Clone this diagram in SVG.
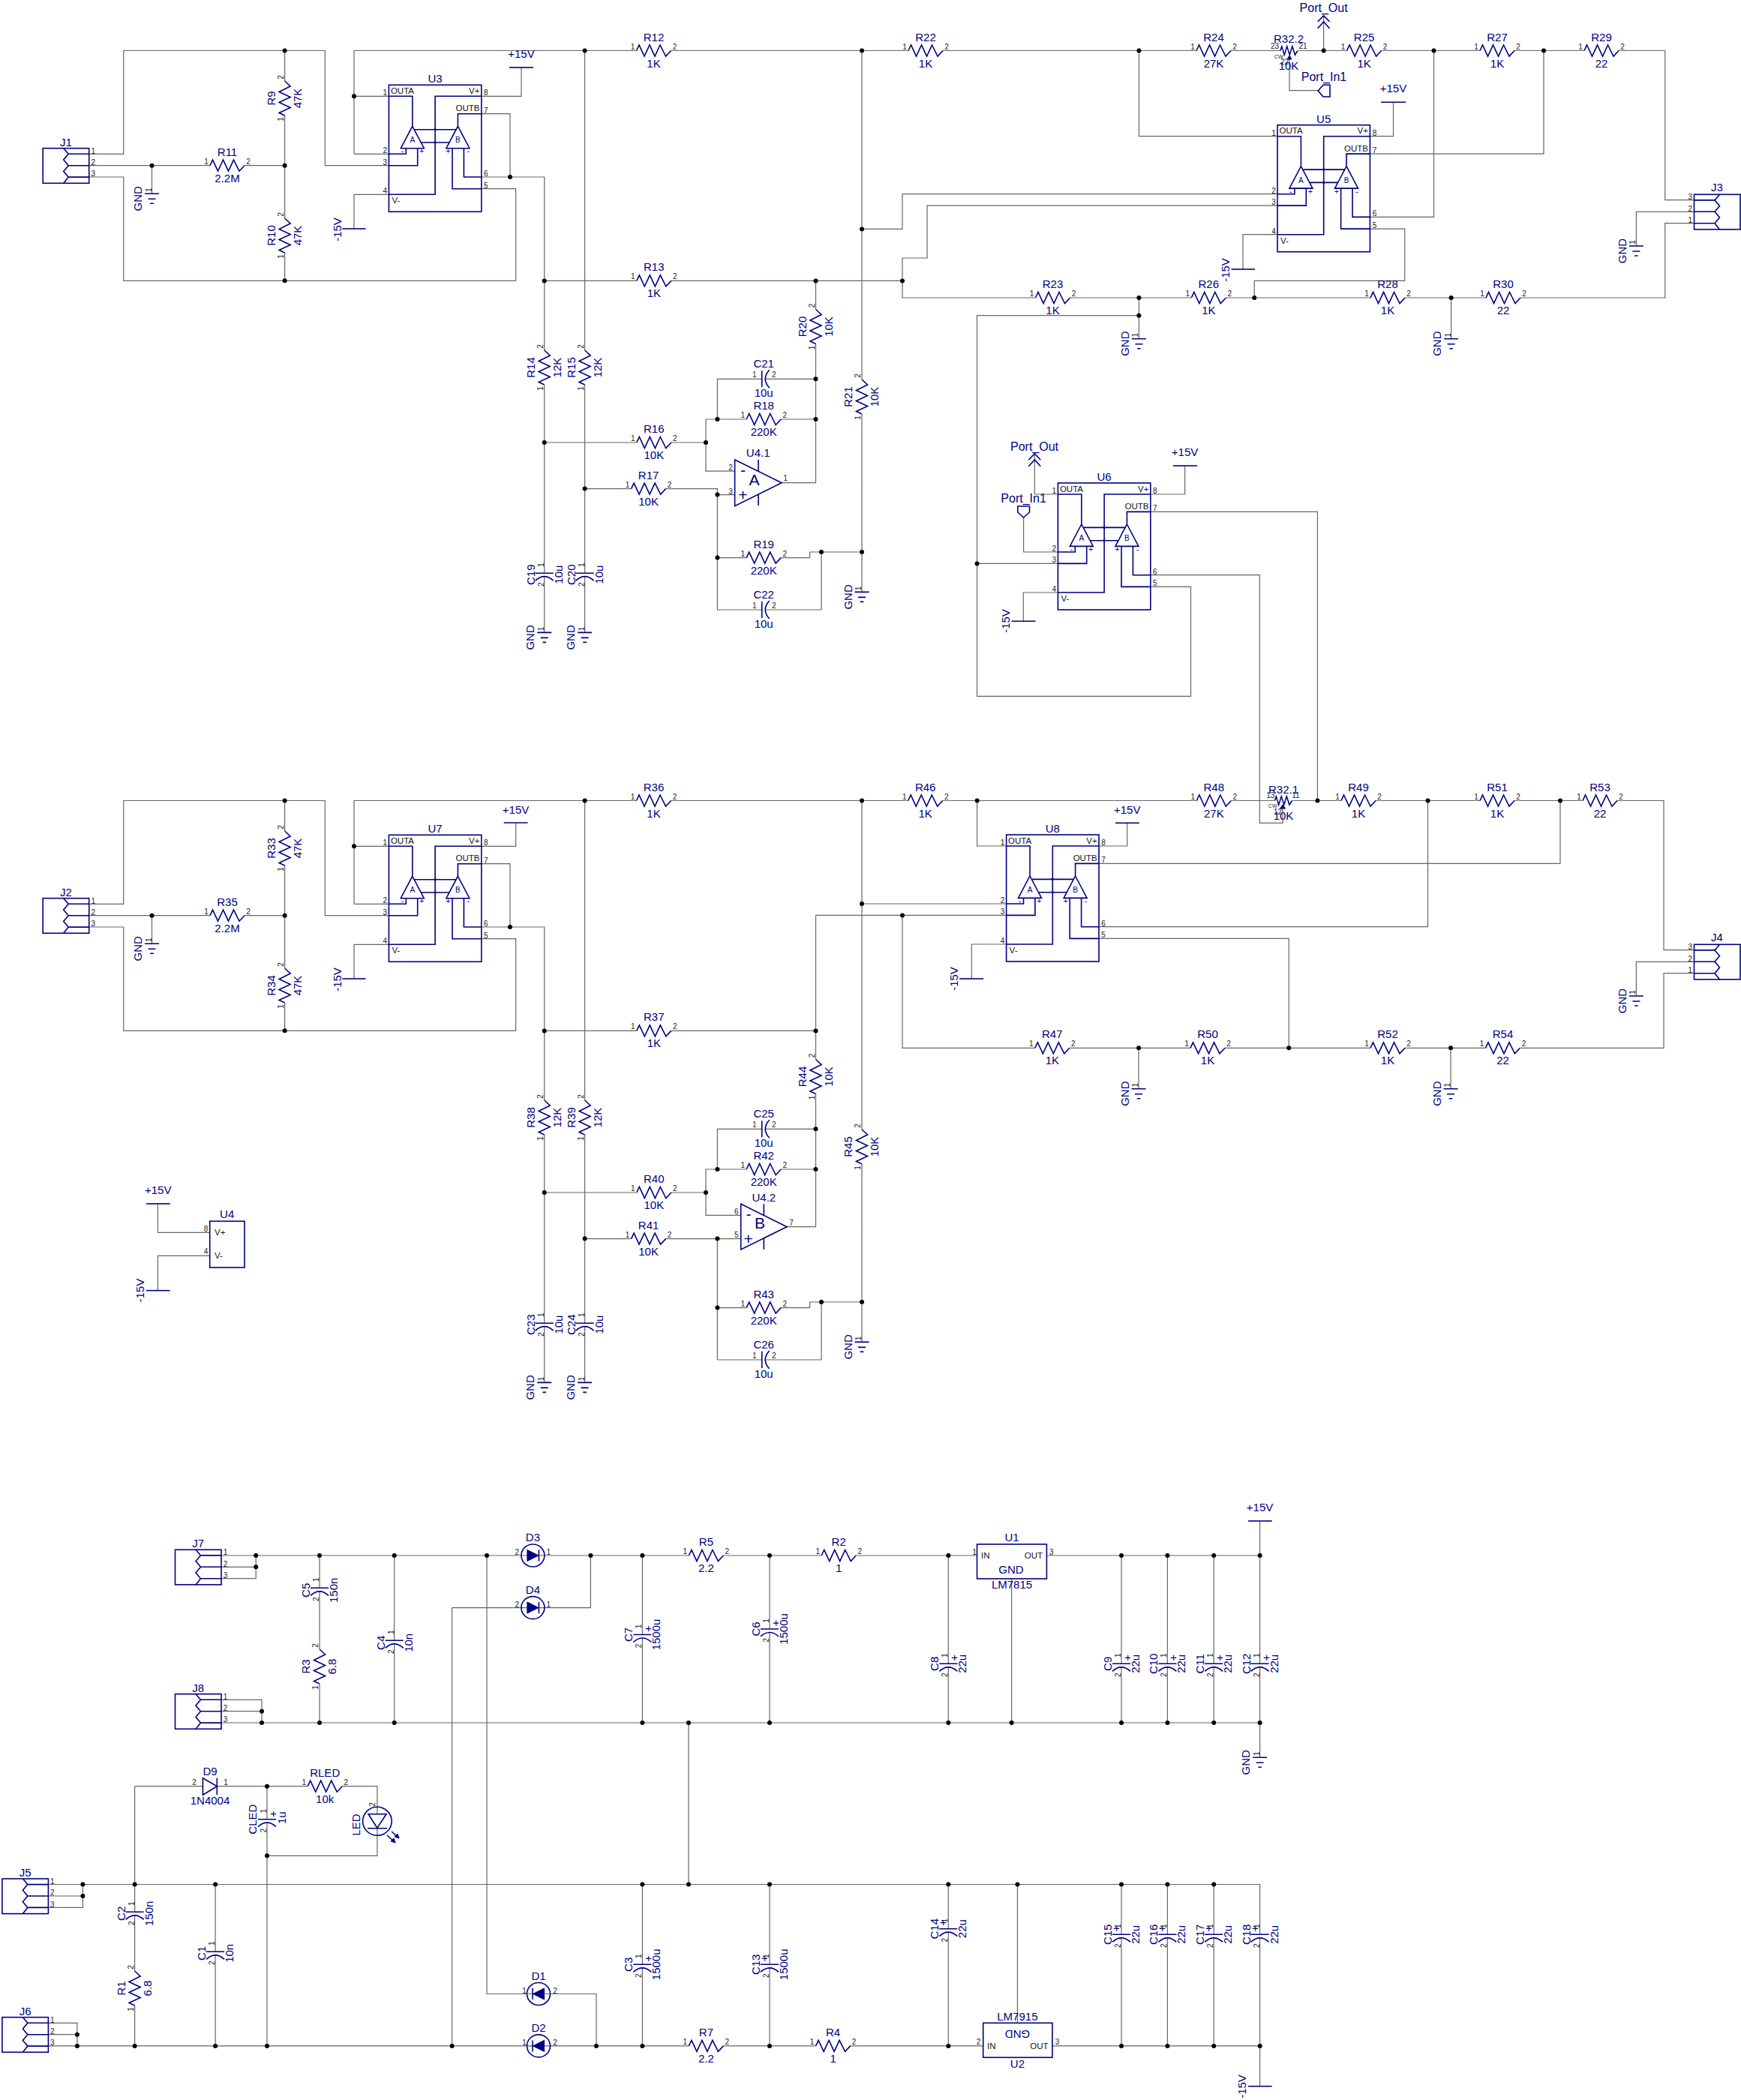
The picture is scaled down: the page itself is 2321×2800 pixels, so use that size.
<svg xmlns="http://www.w3.org/2000/svg" width="2321" height="2800" viewBox="0 0 2321 2800">
<style>
text{font-family:"Liberation Sans",Arial,sans-serif}
.n{font-size:15px;fill:#000080;text-anchor:middle}
.p{font-size:10px;fill:#222;text-anchor:middle}
.m{font-size:11.5px;fill:#112}
.e{text-anchor:end}
.t{font-size:10px;fill:#000080;text-anchor:middle}
.b{font-size:21px;fill:#000080;text-anchor:middle}
.w{fill:none;stroke:#666;stroke-width:1.2}
.s{fill:none;stroke:#000080;stroke-width:1.6}
.f{fill:#000080;stroke:#000080;stroke-width:1}
#dots circle{fill:#000;stroke:none}
</style>
<defs>
<polyline id="r" class="s" vector-effect="non-scaling-stroke" points="-23,0 -19.5,-7.5 -12.5,7.5 -5.5,-7.5 1.5,7.5 8.5,-7.5 16,7.5 23,0"/>
<path id="ch" class="s" d="M0-11V11M10-12Q-1 0 10 12"/>
<path id="cv" class="s" d="M0-12V12M-10-12Q1 0-10 12"/>
<path id="gnd" class="s" d="M0-9.5V9.5M-7-5V5M-13-2.3V2.3"/>
<g id="j"><rect class="s" x="0" y="-23" width="61.5" height="46.6"/><path class="s" d="M27.5-23L34-15.4L27.5-7.7L34 0L27.5 7.7L34 15.4L27.5 23.6M34-15.4H61.5M34 0H61.5M34 15.4H61.5"/></g>
<g id="dual"><rect class="s" width="123.4" height="169"/><path class="s" d="M0 15H31.4V55M123.4 15H61.7V146H0M123.4 38.4H92V55M0 92H22.9V84.4M0 107.4H38.3V84.4M123.4 122.7H100V84.4M123.4 138.4H84.6V84.4M31.4 55L46.9 84.4H15.9ZM92 55L107.5 84.4H76.5ZM33.7 59.4H89.7M42.8 76.7H80.7"/><circle class="f" cx="61.7" cy="59.4" r="1.2"/><circle class="f" cx="61.7" cy="76.7" r="1.2"/></g>
<g id="d"><ellipse class="s" rx="15.5" ry="15"/><path class="f" d="M-7.5-7.5L7.5 0L-7.5 7.5Z"/><path class="s" d="M8-7.5V7.5"/></g>
</defs>
<rect width="2321" height="2800" fill="#fff"/>
<g id="connectors">
<path class="w" d="M118.7 205.3H164.7V67.5H433.3V220.7H518.4M118.7 220.7H280M326 220.7H379.6M118.7 236H164.7V374.3H687.6V251.7H641.8M202.5 220.7V258.3M379.6 67.5V108M379.6 154V291M379.6 337V374.3M472 205.3H518.4M472 205.3V67.5H848.5M894.5 67.5H1211M1257 67.5H1595M1641 67.5H1707M1731 67.5H1795.6M1841.6 67.5H1973M2019 67.5H2112M2158 67.5H2219.7V266.7H2258.5M518.4 128.3H472M641.8 128.3H695V90M641.8 151.7H680V236M641.8 236H725.7V467M725.7 513V764.2M725.7 768.5V843.4M779.6 67.5V467M779.6 513V764.2M779.6 768.5V843.4M518.4 259.3H472V305M725.7 374.4H848.8M894.8 374.4H1203M725.7 590H848.8M894.8 590H941M941 559V628.2H979.6M941 559H995.2M1041.2 559H1087.5M956.4 559V505.3H1015.7M1020 505.3H1087.5M1087.5 374.4V412.5M1087.5 458.5V643.7H1042M779.6 651.6H841.6M887.6 651.6H956.4V813H1015.7M1020 813H1095V736M956.4 659.6H979.6M956.4 743.6H995.2M1041.2 743.6H1079.6V736H1149M1149 67.5V506M1149 552V789.4"/>
<path class="w" d="M1149 305.4H1203V258.7H1703M1703 274.1H1236V344H1203V397H1380.5M1426.5 397H1588.3M1634.3 397H1827M1873 397H1981M2027 397H2219.7V297.7H2258.5M1518.4 397V451.7M1518.4 420.7H1302.5V928.3H1587.5V782.4H1533.8M1302.5 751.4H1410.4M1518.4 67.5V181.7H1703M1826.4 181.7H1857.5V136.3M1826.4 205.1H2058V67.5M1826.4 289.4H1911.5V67.5M1703 312.7H1657V359M1826.4 305.1H1872.7V374.3H1672.2V397M2181.4 328V282.3H2258.5M1934.6 397V451.7M1764.6 67.5V21M1719 78V120.7H1757M1410.4 659H1379.3V605M1364.6 690V736H1410.4M1410.4 790H1364.3V828.3M1533.8 659H1579.6V621M1533.8 682.4H1756.4V1067.5M1533.8 766.7H1679.3V1097.3H1710V1078"/>
<path class="w" d="M118.7 1205.3H164.7V1067.5H433.3V1220.7H518.4M118.7 1220.7H280M326 1220.7H379.6M118.7 1236H164.7V1374.3H687.6V1251.7H641.8M202.5 1220.7V1258.3M379.6 1067.5V1108M379.6 1154V1291M379.6 1337V1374.3M472 1205.3H518.4M472 1205.3V1067.5H848.5M894.5 1067.5H1210.7M1256.7 1067.5H1595.3M1641.3 1067.5H1699M1723 1067.5H1788M1834 1067.5H1973M2019 1067.5H2110M2156 1067.5H2218V1266.7H2258.5M518.4 1128.3H472M641.8 1128.3H687.6V1097M641.8 1151.7H680V1236M641.8 1236H725.7V1467M725.7 1513V1764.2M725.7 1768.5V1843.4M779.6 1067.5V1467M779.6 1513V1764.2M779.6 1768.5V1843.4M518.4 1259.3H472V1305M725.7 1374.4H848.8M894.8 1374.4H1087.5M725.7 1590H848.8M894.8 1590H941M941 1559V1620.3H987.7M941 1559H995.2M1041.2 1559H1087.5M956.4 1559V1505.3H1015.7M1020 1505.3H1087.5M1087.5 1220.4V1412.5M1087.5 1458.5V1635.7H1049M1087.5 1220.4H1341.6M779.6 1651.6H841.6M887.6 1651.6H987.7M956.4 1651.6V1813H1015.7M1020 1813H1095V1736M956.4 1743.6H995.2M1041.2 1743.6H1079.6V1736H1149M1149 1067.5V1506M1149 1552V1789.4M1149 1205H1341.6M1302.6 1067.5V1128H1341.6M1465 1128H1502.7V1097.3M1465 1151.4H2080V1067.5M1465 1235.7H1903.5V1067.5M1465 1251.4H1718.2V1397.3M1341.6 1259H1295.3V1305M1203 1220.4V1397.3H1379.8M1425.8 1397.3H1587M1633 1397.3H1827M1873 1397.3H1980.5M2026.5 1397.3H2218V1297.7H2258.5M1518 1397.3V1451.7M1934 1397.3V1451.7M2181.4 1328V1282.3H2258.5M210.4 1605V1643.3H279.7M279.7 1674.3H210.4V1720.7"/>
<path class="w" d="M295 2074H703M718 2074H918.4M964.4 2074H1095.2M1141.2 2074H1302.5M1395.4 2074H1679.6M295 2089.3H341.2M295 2104.7H341.2V2074M295 2266.3H349V2297M295 2281.7H349M295 2297H1679.6M426 2074V2117.3M426 2121.5V2199M426 2245V2297M525.7 2074V2187.3M525.7 2191.5V2297M649 2074V2658.5H710M726 2658.5H795V2727.9M602.6 2143.6H703M718 2143.6H787.4V2074M602.6 2143.6V2727.9M856.4 2074V2179.5M856.4 2184V2297M1026 2074V2172M1026 2176.5V2297M1264.3 2074V2218.3M1264.3 2222.5V2297M1495 2074V2218.3M1495 2222.5V2297M1556.4 2074V2218.3M1556.4 2222.5V2297M1618.2 2074V2218.3M1618.2 2222.5V2297M1679.6 2028V2218.3M1679.6 2222.5V2343.3M1348.6 2105V2297M918 2297V2512.5"/>
<path class="w" d="M64.4 2512.5H1679.6V2579.3M1679.6 2583.5V2781.7M64.4 2528H110.4M64.4 2543.4H110.4V2512.5M64.4 2697.3H102.9V2727.9M64.4 2712.7H102.9M64.4 2727.9H710M726 2727.9H918.4M964.4 2727.9H1087.6M1133.6 2727.9H1310.7M1402.9 2727.9H1679.6M179.6 2381.7V2549.3M179.6 2553.5V2628M179.6 2674V2727.9M179.6 2381.7H270.4M289.3 2381.7H410.2M456.2 2381.7H502.9V2418.7M502.9 2437.5V2474.3H356M356 2381.7V2425.7M356 2430V2727.9M287.1 2512.5V2602.3M287.1 2606.5V2727.9M856.4 2512.5V2619.3M856.4 2623.5V2727.9M1026 2512.5V2619.3M1026 2623.5V2727.9M1264.3 2512.5V2571.7M1264.3 2576V2727.9M1495 2512.5V2579.3M1495 2583.5V2727.9M1556.4 2512.5V2579.3M1556.4 2583.5V2727.9M1618.2 2512.5V2579.3M1618.2 2583.5V2727.9M1356.4 2512.5V2697.3"/>
<g id="dots">
<circle cx="379.6" cy="67.5" r="3"/><circle cx="779.6" cy="67.5" r="3"/><circle cx="1149" cy="67.5" r="3"/><circle cx="1518.4" cy="67.5" r="3"/><circle cx="1764.6" cy="67.5" r="3"/><circle cx="1911.5" cy="67.5" r="3"/><circle cx="2058" cy="67.5" r="3"/><circle cx="202.5" cy="220.7" r="3"/><circle cx="379.6" cy="220.7" r="3"/><circle cx="472" cy="128.3" r="3"/><circle cx="680" cy="236" r="3"/><circle cx="379.6" cy="374.3" r="3"/><circle cx="725.7" cy="374.4" r="3"/><circle cx="1087.5" cy="374.4" r="3"/><circle cx="1203" cy="374.4" r="3"/><circle cx="1149" cy="305.4" r="3"/><circle cx="725.7" cy="590" r="3"/><circle cx="941" cy="590" r="3"/><circle cx="956.4" cy="559" r="3"/><circle cx="1087.5" cy="505.3" r="3"/><circle cx="1087.5" cy="559" r="3"/><circle cx="779.6" cy="651.6" r="3"/><circle cx="956.4" cy="659.6" r="3"/><circle cx="956.4" cy="743.6" r="3"/><circle cx="1095" cy="736" r="3"/><circle cx="1149" cy="736" r="3"/><circle cx="1518.4" cy="397" r="3"/><circle cx="1518.4" cy="420.7" r="3"/><circle cx="1672.2" cy="397" r="3"/><circle cx="1934.6" cy="397" r="3"/><circle cx="1302.5" cy="751.4" r="3"/>
<circle cx="379.6" cy="1067.5" r="3"/><circle cx="779.6" cy="1067.5" r="3"/><circle cx="1149" cy="1067.5" r="3"/><circle cx="1302.6" cy="1067.5" r="3"/><circle cx="1756.4" cy="1067.5" r="3"/><circle cx="1903.5" cy="1067.5" r="3"/><circle cx="2080" cy="1067.5" r="3"/><circle cx="202.5" cy="1220.7" r="3"/><circle cx="379.6" cy="1220.7" r="3"/><circle cx="472" cy="1128.3" r="3"/><circle cx="680" cy="1236" r="3"/><circle cx="379.6" cy="1374.3" r="3"/><circle cx="725.7" cy="1374.4" r="3"/><circle cx="1087.5" cy="1374.4" r="3"/><circle cx="1149" cy="1205" r="3"/><circle cx="1203" cy="1220.4" r="3"/><circle cx="725.7" cy="1590" r="3"/><circle cx="941" cy="1590" r="3"/><circle cx="956.4" cy="1559" r="3"/><circle cx="1087.5" cy="1505.3" r="3"/><circle cx="1087.5" cy="1559" r="3"/><circle cx="779.6" cy="1651.6" r="3"/><circle cx="956.4" cy="1651.6" r="3"/><circle cx="956.4" cy="1743.6" r="3"/><circle cx="1095" cy="1736" r="3"/><circle cx="1149" cy="1736" r="3"/><circle cx="1518" cy="1397.3" r="3"/><circle cx="1718.2" cy="1397.3" r="3"/><circle cx="1934" cy="1397.3" r="3"/>
<circle cx="341.2" cy="2074" r="3"/><circle cx="341.2" cy="2089.3" r="3"/><circle cx="426" cy="2074" r="3"/><circle cx="525.7" cy="2074" r="3"/><circle cx="649" cy="2074" r="3"/><circle cx="787.4" cy="2074" r="3"/><circle cx="856.4" cy="2074" r="3"/><circle cx="1026" cy="2074" r="3"/><circle cx="1264.3" cy="2074" r="3"/><circle cx="1495" cy="2074" r="3"/><circle cx="1556.4" cy="2074" r="3"/><circle cx="1618.2" cy="2074" r="3"/><circle cx="1679.6" cy="2074" r="3"/>
<circle cx="349" cy="2281.7" r="3"/><circle cx="349" cy="2297" r="3"/><circle cx="426" cy="2297" r="3"/><circle cx="525.7" cy="2297" r="3"/><circle cx="856.4" cy="2297" r="3"/><circle cx="918" cy="2297" r="3"/><circle cx="1026" cy="2297" r="3"/><circle cx="1264.3" cy="2297" r="3"/><circle cx="1348.6" cy="2297" r="3"/><circle cx="1495" cy="2297" r="3"/><circle cx="1556.4" cy="2297" r="3"/><circle cx="1618.2" cy="2297" r="3"/><circle cx="1679.6" cy="2297" r="3"/>
<circle cx="356" cy="2381.7" r="3"/><circle cx="356" cy="2474.3" r="3"/>
<circle cx="110.4" cy="2512.5" r="3"/><circle cx="110.4" cy="2528" r="3"/><circle cx="179.6" cy="2512.5" r="3"/><circle cx="287.1" cy="2512.5" r="3"/><circle cx="856.4" cy="2512.5" r="3"/><circle cx="918" cy="2512.5" r="3"/><circle cx="1026" cy="2512.5" r="3"/><circle cx="1264.3" cy="2512.5" r="3"/><circle cx="1356.4" cy="2512.5" r="3"/><circle cx="1495" cy="2512.5" r="3"/><circle cx="1556.4" cy="2512.5" r="3"/><circle cx="1618.2" cy="2512.5" r="3"/>
<circle cx="102.9" cy="2712.7" r="3"/><circle cx="102.9" cy="2727.9" r="3"/><circle cx="179.6" cy="2727.9" r="3"/><circle cx="287.1" cy="2727.9" r="3"/><circle cx="356" cy="2727.9" r="3"/><circle cx="602.6" cy="2727.9" r="3"/><circle cx="795" cy="2727.9" r="3"/><circle cx="856.4" cy="2727.9" r="3"/><circle cx="1026" cy="2727.9" r="3"/><circle cx="1264.3" cy="2727.9" r="3"/><circle cx="1495" cy="2727.9" r="3"/><circle cx="1556.4" cy="2727.9" r="3"/><circle cx="1618.2" cy="2727.9" r="3"/><circle cx="1679.6" cy="2727.9" r="3"/>
</g>
</g>

<g id="J1" transform="translate(57.2 220.7)"><use href="#j"/><text class="n" x="30.7" y="-26">J1</text><text class="p" x="67" y="-16.2">1</text><text class="p" x="67" y="-.8">2</text><text class="p" x="67" y="14.6">3</text></g>
<g id="J2" transform="translate(57.2 1220.7)"><use href="#j"/><text class="n" x="30.7" y="-26">J2</text><text class="p" x="67" y="-16.2">1</text><text class="p" x="67" y="-.8">2</text><text class="p" x="67" y="14.6">3</text></g>
<g id="J7" transform="translate(233.5 2089.3)"><use href="#j"/><text class="n" x="30.7" y="-26">J7</text><text class="p" x="67" y="-16.2">1</text><text class="p" x="67" y="-.8">2</text><text class="p" x="67" y="14.6">3</text></g>
<g id="J8" transform="translate(233.5 2281.7)"><use href="#j"/><text class="n" x="30.7" y="-26">J8</text><text class="p" x="67" y="-16.2">1</text><text class="p" x="67" y="-.8">2</text><text class="p" x="67" y="14.6">3</text></g>
<g id="J5" transform="translate(2.9 2528)"><use href="#j"/><text class="n" x="30.7" y="-26">J5</text><text class="p" x="67" y="-16.2">1</text><text class="p" x="67" y="-.8">2</text><text class="p" x="67" y="14.6">3</text></g>
<g id="J6" transform="translate(2.9 2712.7)"><use href="#j"/><text class="n" x="30.7" y="-26">J6</text><text class="p" x="67" y="-16.2">1</text><text class="p" x="67" y="-.8">2</text><text class="p" x="67" y="14.6">3</text></g>
<g id="J3" transform="translate(2320 282.3)"><use href="#j" transform="scale(-1 1)"/><text class="n" x="-31" y="-27">J3</text><text class="p" x="-66.7" y="-16.3">3</text><text class="p" x="-66.7" y="-.8">2</text><text class="p" x="-66.7" y="14.7">1</text></g>
<g id="J4" transform="translate(2320 1282.3)"><use href="#j" transform="scale(-1 1)"/><text class="n" x="-31" y="-27">J4</text><text class="p" x="-66.7" y="-16.3">3</text><text class="p" x="-66.7" y="-.8">2</text><text class="p" x="-66.7" y="14.7">1</text></g>

<g id="U3" transform="translate(518.4 113.3)"><use href="#dual"/><text class="n" x="61.7" y="-3">U3</text><text class="m" x="2.5" y="11.7">OUTA</text><text class="m e" x="121" y="11.7">V+</text><text class="m e" x="121" y="35">OUTB</text><text class="m" x="4" y="158">V-</text><text class="t" x="31.4" y="77">A</text><text class="t" x="92" y="77">B</text><text class="t" x="18" y="92">-</text><text class="t" x="43.8" y="92">+</text><text class="t" x="79" y="92">+</text><text class="t" x="106" y="92">-</text><text class="p" x="-5" y="14">1</text><text class="p" x="-5" y="91">2</text><text class="p" x="-5" y="106.4">3</text><text class="p" x="-5" y="145">4</text><text class="p" x="129.5" y="14">8</text><text class="p" x="129.5" y="37.4">7</text><text class="p" x="129.5" y="121.7">6</text><text class="p" x="129.5" y="137.4">5</text></g>
<g id="U5" transform="translate(1703 166.7)"><use href="#dual"/><text class="n" x="61.7" y="-3">U5</text><text class="m" x="2.5" y="11.7">OUTA</text><text class="m e" x="121" y="11.7">V+</text><text class="m e" x="121" y="35">OUTB</text><text class="m" x="4" y="158">V-</text><text class="t" x="31.4" y="77">A</text><text class="t" x="92" y="77">B</text><text class="t" x="18" y="92">-</text><text class="t" x="43.8" y="92">+</text><text class="t" x="79" y="92">+</text><text class="t" x="106" y="92">-</text><text class="p" x="-5" y="14">1</text><text class="p" x="-5" y="91">2</text><text class="p" x="-5" y="106.4">3</text><text class="p" x="-5" y="145">4</text><text class="p" x="129.5" y="14">8</text><text class="p" x="129.5" y="37.4">7</text><text class="p" x="129.5" y="121.7">6</text><text class="p" x="129.5" y="137.4">5</text></g>
<g id="U6" transform="translate(1410.4 644)"><use href="#dual"/><text class="n" x="61.7" y="-3">U6</text><text class="m" x="2.5" y="11.7">OUTA</text><text class="m e" x="121" y="11.7">V+</text><text class="m e" x="121" y="35">OUTB</text><text class="m" x="4" y="158">V-</text><text class="t" x="31.4" y="77">A</text><text class="t" x="92" y="77">B</text><text class="t" x="18" y="92">-</text><text class="t" x="43.8" y="92">+</text><text class="t" x="79" y="92">+</text><text class="t" x="106" y="92">-</text><text class="p" x="-5" y="14">1</text><text class="p" x="-5" y="91">2</text><text class="p" x="-5" y="106.4">3</text><text class="p" x="-5" y="145">4</text><text class="p" x="129.5" y="14">8</text><text class="p" x="129.5" y="37.4">7</text><text class="p" x="129.5" y="121.7">6</text><text class="p" x="129.5" y="137.4">5</text></g>
<g id="U7" transform="translate(518.4 1113.3)"><use href="#dual"/><text class="n" x="61.7" y="-3">U7</text><text class="m" x="2.5" y="11.7">OUTA</text><text class="m e" x="121" y="11.7">V+</text><text class="m e" x="121" y="35">OUTB</text><text class="m" x="4" y="158">V-</text><text class="t" x="31.4" y="77">A</text><text class="t" x="92" y="77">B</text><text class="t" x="18" y="92">-</text><text class="t" x="43.8" y="92">+</text><text class="t" x="79" y="92">+</text><text class="t" x="106" y="92">-</text><text class="p" x="-5" y="14">1</text><text class="p" x="-5" y="91">2</text><text class="p" x="-5" y="106.4">3</text><text class="p" x="-5" y="145">4</text><text class="p" x="129.5" y="14">8</text><text class="p" x="129.5" y="37.4">7</text><text class="p" x="129.5" y="121.7">6</text><text class="p" x="129.5" y="137.4">5</text></g>
<g id="U8" transform="translate(1341.6 1113)"><use href="#dual"/><text class="n" x="61.7" y="-3">U8</text><text class="m" x="2.5" y="11.7">OUTA</text><text class="m e" x="121" y="11.7">V+</text><text class="m e" x="121" y="35">OUTB</text><text class="m" x="4" y="158">V-</text><text class="t" x="31.4" y="77">A</text><text class="t" x="92" y="77">B</text><text class="t" x="18" y="92">-</text><text class="t" x="43.8" y="92">+</text><text class="t" x="79" y="92">+</text><text class="t" x="106" y="92">-</text><text class="p" x="-5" y="14">1</text><text class="p" x="-5" y="91">2</text><text class="p" x="-5" y="106.4">3</text><text class="p" x="-5" y="145">4</text><text class="p" x="129.5" y="14">8</text><text class="p" x="129.5" y="37.4">7</text><text class="p" x="129.5" y="121.7">6</text><text class="p" x="129.5" y="137.4">5</text></g>
<g id="U4"><rect class="s" x="279.7" y="1628.3" width="46.3" height="61.7"/><text class="n" x="302.7" y="1624.3">U4</text><text class="m" x="286" y="1647.3">V+</text><text class="m" x="286" y="1678.3">V-</text><text class="p" x="274.5" y="1641.7">8</text><text class="p" x="274.5" y="1672.3">4</text></g>
<g id="U4.1"><path class="s" d="M979.6 613L1042 643.7L979.6 674.6ZM1011 628V613M1011 659V674"/><text class="n" x="1010.7" y="609.3">U4.1</text><text class="b" x="1005.4" y="646.5">A</text><text class="b" x="990.4" y="634">-</text><text class="b" x="990.4" y="667">+</text><text class="p" x="974" y="627">2</text><text class="p" x="974" y="658.5">3</text><text class="p" x="1047" y="641">1</text></g>
<g id="U4.2"><path class="s" d="M987.7 1605.3L1049 1635.7L987.7 1666ZM1018.3 1620V1605.3M1018.3 1651V1666"/><text class="n" x="1018.3" y="1601.7">U4.2</text><text class="b" x="1013" y="1638">B</text><text class="b" x="998" y="1626">-</text><text class="b" x="997.7" y="1659">+</text><text class="p" x="981.7" y="1618.7">6</text><text class="p" x="981.7" y="1650">5</text><text class="p" x="1055" y="1634">7</text></g>
<g id="U1"><rect class="s" x="1302.5" y="2059" width="92.9" height="46"/><text class="n" x="1349" y="2055">U1</text><text class="n" x="1349" y="2118.3">LM7815</text><text class="m" x="1308" y="2078">IN</text><text class="m e" x="1390" y="2078">OUT</text><text class="n" x="1348" y="2098.3">GND</text><text class="p" x="1299" y="2073">1</text><text class="p" x="1401.8" y="2073">3</text></g>
<g id="U2"><rect class="s" x="1310.7" y="2697.3" width="92.2" height="46"/><text class="n" x="1356.4" y="2694">LM7915</text><text class="n" x="1356.4" y="2756.7">U2</text><text class="m" x="1316" y="2732.3">IN</text><text class="m e" x="1397.5" y="2732.3">OUT</text><text class="n" transform="translate(1356.4 2706.5) rotate(180)">GND</text><text class="p" x="1304.6" y="2726">2</text><text class="p" x="1409.6" y="2726">3</text></g>

<g id="R12" transform="translate(871.5 67.5)"><use href="#r"/><text class="n" y="-13">R12</text><text class="n" y="22">1K</text><text class="p" x="-28" y="-2">1</text><text class="p" x="28" y="-2">2</text></g>
<g id="R22" transform="translate(1234 67.5)"><use href="#r"/><text class="n" y="-13">R22</text><text class="n" y="22">1K</text><text class="p" x="-28" y="-2">1</text><text class="p" x="28" y="-2">2</text></g>
<g id="R24" transform="translate(1618 67.5)"><use href="#r"/><text class="n" y="-13">R24</text><text class="n" y="22">27K</text><text class="p" x="-28" y="-2">1</text><text class="p" x="28" y="-2">2</text></g>
<g id="R25" transform="translate(1818.6 67.5)"><use href="#r"/><text class="n" y="-13">R25</text><text class="n" y="22">1K</text><text class="p" x="-28" y="-2">1</text><text class="p" x="28" y="-2">2</text></g>
<g id="R27" transform="translate(1996 67.5)"><use href="#r"/><text class="n" y="-13">R27</text><text class="n" y="22">1K</text><text class="p" x="-28" y="-2">1</text><text class="p" x="28" y="-2">2</text></g>
<g id="R29" transform="translate(2135 67.5)"><use href="#r"/><text class="n" y="-13">R29</text><text class="n" y="22">22</text><text class="p" x="-28" y="-2">1</text><text class="p" x="28" y="-2">2</text></g>
<g id="R11" transform="translate(303 220.7)"><use href="#r"/><text class="n" y="-13">R11</text><text class="n" y="22">2.2M</text><text class="p" x="-28" y="-2">1</text><text class="p" x="28" y="-2">2</text></g>
<g id="R9" transform="translate(379.6 131) rotate(-90)"><use href="#r"/><text class="n" y="-13">R9</text><text class="n" y="22">47K</text><text class="p" x="-28" y="-2">1</text><text class="p" x="28" y="-2">2</text></g>
<g id="R10" transform="translate(379.6 314) rotate(-90)"><use href="#r"/><text class="n" y="-13">R10</text><text class="n" y="22">47K</text><text class="p" x="-28" y="-2">1</text><text class="p" x="28" y="-2">2</text></g>
<g id="R13" transform="translate(871.8 374.4)"><use href="#r"/><text class="n" y="-13">R13</text><text class="n" y="22">1K</text><text class="p" x="-28" y="-2">1</text><text class="p" x="28" y="-2">2</text></g>
<g id="R14" transform="translate(725.7 490) rotate(-90)"><use href="#r"/><text class="n" y="-13">R14</text><text class="n" y="22">12K</text><text class="p" x="-28" y="-2">1</text><text class="p" x="28" y="-2">2</text></g>
<g id="R15" transform="translate(779.6 490) rotate(-90)"><use href="#r"/><text class="n" y="-13">R15</text><text class="n" y="22">12K</text><text class="p" x="-28" y="-2">1</text><text class="p" x="28" y="-2">2</text></g>
<g id="R16" transform="translate(871.8 590)"><use href="#r"/><text class="n" y="-13">R16</text><text class="n" y="22">10K</text><text class="p" x="-28" y="-2">1</text><text class="p" x="28" y="-2">2</text></g>
<g id="R17" transform="translate(864.6 651.6)"><use href="#r"/><text class="n" y="-13">R17</text><text class="n" y="22">10K</text><text class="p" x="-28" y="-2">1</text><text class="p" x="28" y="-2">2</text></g>
<g id="R18" transform="translate(1018.2 559)"><use href="#r"/><text class="n" y="-13">R18</text><text class="n" y="22">220K</text><text class="p" x="-28" y="-2">1</text><text class="p" x="28" y="-2">2</text></g>
<g id="R19" transform="translate(1018.2 743.6)"><use href="#r"/><text class="n" y="-13">R19</text><text class="n" y="22">220K</text><text class="p" x="-28" y="-2">1</text><text class="p" x="28" y="-2">2</text></g>
<g id="R20" transform="translate(1087.5 435.5) rotate(-90)"><use href="#r"/><text class="n" y="-13">R20</text><text class="n" y="22">10K</text><text class="p" x="-28" y="-2">1</text><text class="p" x="28" y="-2">2</text></g>
<g id="R21" transform="translate(1149 529) rotate(-90)"><use href="#r"/><text class="n" y="-13">R21</text><text class="n" y="22">10K</text><text class="p" x="-28" y="-2">1</text><text class="p" x="28" y="-2">2</text></g>
<g id="R23" transform="translate(1403.5 397)"><use href="#r"/><text class="n" y="-13">R23</text><text class="n" y="22">1K</text><text class="p" x="-28" y="-2">1</text><text class="p" x="28" y="-2">2</text></g>
<g id="R26" transform="translate(1611.3 397)"><use href="#r"/><text class="n" y="-13">R26</text><text class="n" y="22">1K</text><text class="p" x="-28" y="-2">1</text><text class="p" x="28" y="-2">2</text></g>
<g id="R28" transform="translate(1850 397)"><use href="#r"/><text class="n" y="-13">R28</text><text class="n" y="22">1K</text><text class="p" x="-28" y="-2">1</text><text class="p" x="28" y="-2">2</text></g>
<g id="R30" transform="translate(2004 397)"><use href="#r"/><text class="n" y="-13">R30</text><text class="n" y="22">22</text><text class="p" x="-28" y="-2">1</text><text class="p" x="28" y="-2">2</text></g>
<g id="R36" transform="translate(871.5 1067.5)"><use href="#r"/><text class="n" y="-13">R36</text><text class="n" y="22">1K</text><text class="p" x="-28" y="-2">1</text><text class="p" x="28" y="-2">2</text></g>
<g id="R46" transform="translate(1233.7 1067.5)"><use href="#r"/><text class="n" y="-13">R46</text><text class="n" y="22">1K</text><text class="p" x="-28" y="-2">1</text><text class="p" x="28" y="-2">2</text></g>
<g id="R48" transform="translate(1618.3 1067.5)"><use href="#r"/><text class="n" y="-13">R48</text><text class="n" y="22">27K</text><text class="p" x="-28" y="-2">1</text><text class="p" x="28" y="-2">2</text></g>
<g id="R49" transform="translate(1811 1067.5)"><use href="#r"/><text class="n" y="-13">R49</text><text class="n" y="22">1K</text><text class="p" x="-28" y="-2">1</text><text class="p" x="28" y="-2">2</text></g>
<g id="R51" transform="translate(1996 1067.5)"><use href="#r"/><text class="n" y="-13">R51</text><text class="n" y="22">1K</text><text class="p" x="-28" y="-2">1</text><text class="p" x="28" y="-2">2</text></g>
<g id="R53" transform="translate(2133 1067.5)"><use href="#r"/><text class="n" y="-13">R53</text><text class="n" y="22">22</text><text class="p" x="-28" y="-2">1</text><text class="p" x="28" y="-2">2</text></g>
<g id="R35" transform="translate(303 1220.7)"><use href="#r"/><text class="n" y="-13">R35</text><text class="n" y="22">2.2M</text><text class="p" x="-28" y="-2">1</text><text class="p" x="28" y="-2">2</text></g>
<g id="R33" transform="translate(379.6 1131) rotate(-90)"><use href="#r"/><text class="n" y="-13">R33</text><text class="n" y="22">47K</text><text class="p" x="-28" y="-2">1</text><text class="p" x="28" y="-2">2</text></g>
<g id="R34" transform="translate(379.6 1314) rotate(-90)"><use href="#r"/><text class="n" y="-13">R34</text><text class="n" y="22">47K</text><text class="p" x="-28" y="-2">1</text><text class="p" x="28" y="-2">2</text></g>
<g id="R37" transform="translate(871.8 1374.4)"><use href="#r"/><text class="n" y="-13">R37</text><text class="n" y="22">1K</text><text class="p" x="-28" y="-2">1</text><text class="p" x="28" y="-2">2</text></g>
<g id="R38" transform="translate(725.7 1490) rotate(-90)"><use href="#r"/><text class="n" y="-13">R38</text><text class="n" y="22">12K</text><text class="p" x="-28" y="-2">1</text><text class="p" x="28" y="-2">2</text></g>
<g id="R39" transform="translate(779.6 1490) rotate(-90)"><use href="#r"/><text class="n" y="-13">R39</text><text class="n" y="22">12K</text><text class="p" x="-28" y="-2">1</text><text class="p" x="28" y="-2">2</text></g>
<g id="R40" transform="translate(871.8 1590)"><use href="#r"/><text class="n" y="-13">R40</text><text class="n" y="22">10K</text><text class="p" x="-28" y="-2">1</text><text class="p" x="28" y="-2">2</text></g>
<g id="R41" transform="translate(864.6 1651.6)"><use href="#r"/><text class="n" y="-13">R41</text><text class="n" y="22">10K</text><text class="p" x="-28" y="-2">1</text><text class="p" x="28" y="-2">2</text></g>
<g id="R42" transform="translate(1018.2 1559)"><use href="#r"/><text class="n" y="-13">R42</text><text class="n" y="22">220K</text><text class="p" x="-28" y="-2">1</text><text class="p" x="28" y="-2">2</text></g>
<g id="R43" transform="translate(1018.2 1743.6)"><use href="#r"/><text class="n" y="-13">R43</text><text class="n" y="22">220K</text><text class="p" x="-28" y="-2">1</text><text class="p" x="28" y="-2">2</text></g>
<g id="R44" transform="translate(1087.5 1435.5) rotate(-90)"><use href="#r"/><text class="n" y="-13">R44</text><text class="n" y="22">10K</text><text class="p" x="-28" y="-2">1</text><text class="p" x="28" y="-2">2</text></g>
<g id="R45" transform="translate(1149 1529) rotate(-90)"><use href="#r"/><text class="n" y="-13">R45</text><text class="n" y="22">10K</text><text class="p" x="-28" y="-2">1</text><text class="p" x="28" y="-2">2</text></g>
<g id="R47" transform="translate(1402.8 1397.3)"><use href="#r"/><text class="n" y="-13">R47</text><text class="n" y="22">1K</text><text class="p" x="-28" y="-2">1</text><text class="p" x="28" y="-2">2</text></g>
<g id="R50" transform="translate(1610 1397.3)"><use href="#r"/><text class="n" y="-13">R50</text><text class="n" y="22">1K</text><text class="p" x="-28" y="-2">1</text><text class="p" x="28" y="-2">2</text></g>
<g id="R52" transform="translate(1850 1397.3)"><use href="#r"/><text class="n" y="-13">R52</text><text class="n" y="22">1K</text><text class="p" x="-28" y="-2">1</text><text class="p" x="28" y="-2">2</text></g>
<g id="R54" transform="translate(2003.5 1397.3)"><use href="#r"/><text class="n" y="-13">R54</text><text class="n" y="22">22</text><text class="p" x="-28" y="-2">1</text><text class="p" x="28" y="-2">2</text></g>
<g id="R5" transform="translate(941.4 2074)"><use href="#r"/><text class="n" y="-13">R5</text><text class="n" y="22">2.2</text><text class="p" x="-28" y="-2">1</text><text class="p" x="28" y="-2">2</text></g>
<g id="R2" transform="translate(1118.2 2074)"><use href="#r"/><text class="n" y="-13">R2</text><text class="n" y="22">1</text><text class="p" x="-28" y="-2">1</text><text class="p" x="28" y="-2">2</text></g>
<g id="R7" transform="translate(941.4 2727.9)"><use href="#r"/><text class="n" y="-13">R7</text><text class="n" y="22">2.2</text><text class="p" x="-28" y="-2">1</text><text class="p" x="28" y="-2">2</text></g>
<g id="R4" transform="translate(1110.6 2727.9)"><use href="#r"/><text class="n" y="-13">R4</text><text class="n" y="22">1</text><text class="p" x="-28" y="-2">1</text><text class="p" x="28" y="-2">2</text></g>
<g id="R3" transform="translate(426 2222) rotate(-90)"><use href="#r"/><text class="n" y="-13">R3</text><text class="n" y="22">6.8</text><text class="p" x="-28" y="-2">1</text><text class="p" x="28" y="-2">2</text></g>
<g id="R1" transform="translate(179.6 2651) rotate(-90)"><use href="#r"/><text class="n" y="-13">R1</text><text class="n" y="22">6.8</text><text class="p" x="-28" y="-2">1</text><text class="p" x="28" y="-2">2</text></g>
<g id="RLED" transform="translate(433.2 2381.7)"><use href="#r"/><text class="n" y="-13">RLED</text><text class="n" y="22">10k</text><text class="p" x="-28" y="-2">1</text><text class="p" x="28" y="-2">2</text></g>

<g id="R32.2"><use href="#r" transform="translate(1718.5 67.5) scale(.5 .75)"/><path class="f" d="M1719 74L1722 79H1716Z"/><text class="n" x="1718" y="57.3">R32.2</text><text class="n" x="1718" y="92.7">10K</text><text class="p" x="1699.5" y="65">23</text><text class="p" x="1737" y="65">21</text><text class="p" style="font-size:7px" x="1704.7" y="78">CW</text><text class="p" x="1712.6" y="86">22</text></g>
<g id="R32.1"><use href="#r" transform="translate(1711 1067.5) scale(.5 .75)"/><path class="f" d="M1710 1073L1713.5 1078H1706.5Z"/><text class="n" x="1711" y="1058.3">R32.1</text><text class="n" x="1711" y="1092.7">10K</text><text class="p" x="1693.7" y="1064">13</text><text class="p" x="1727.4" y="1064">11</text><text class="p" style="font-size:7px" x="1696.7" y="1077">CW</text><text class="p" x="1703.6" y="1086">12</text></g>

<g id="C21" transform="translate(1015.7 505.3)"><use href="#ch"/><text class="n" x="2.5" y="-15">C21</text><text class="n" x="2.5" y="24">10u</text><text class="p" x="-10" y="-2">1</text><text class="p" x="16" y="-2">2</text></g>
<g id="C22" transform="translate(1015.7 813)"><use href="#ch"/><text class="n" x="2.5" y="-15">C22</text><text class="n" x="2.5" y="24">10u</text><text class="p" x="-10" y="-2">1</text><text class="p" x="16" y="-2">2</text></g>
<g id="C25" transform="translate(1015.7 1505.3)"><use href="#ch"/><text class="n" x="2.5" y="-15">C25</text><text class="n" x="2.5" y="24">10u</text><text class="p" x="-10" y="-2">1</text><text class="p" x="16" y="-2">2</text></g>
<g id="C26" transform="translate(1015.7 1813)"><use href="#ch"/><text class="n" x="2.5" y="-15">C26</text><text class="n" x="2.5" y="24">10u</text><text class="p" x="-10" y="-2">1</text><text class="p" x="16" y="-2">2</text></g>
<g id="C19" transform="translate(725.7 764.2) rotate(-90)"><use href="#cv"/><text class="n" x="-2" y="-13">C19</text><text class="n" x="-2" y="24">10u</text><text class="p" x="11" y="-1">1</text><text class="p" x="-15" y="-1">2</text></g>
<g id="C20" transform="translate(779.6 764.2) rotate(-90)"><use href="#cv"/><text class="n" x="-2" y="-13">C20</text><text class="n" x="-2" y="24">10u</text><text class="p" x="11" y="-1">1</text><text class="p" x="-15" y="-1">2</text></g>
<g id="C23" transform="translate(725.7 1764.2) rotate(-90)"><use href="#cv"/><text class="n" x="-2" y="-13">C23</text><text class="n" x="-2" y="24">10u</text><text class="p" x="11" y="-1">1</text><text class="p" x="-15" y="-1">2</text></g>
<g id="C24" transform="translate(779.6 1764.2) rotate(-90)"><use href="#cv"/><text class="n" x="-2" y="-13">C24</text><text class="n" x="-2" y="24">10u</text><text class="p" x="11" y="-1">1</text><text class="p" x="-15" y="-1">2</text></g>
<g id="C5" transform="translate(426 2117.3) rotate(-90)"><use href="#cv"/><text class="n" x="-3" y="-13">C5</text><text class="n" x="-3" y="24">150n</text><text class="p" x="11" y="-1">1</text><text class="p" x="-15" y="-1">2</text></g>
<g id="C4" transform="translate(525.7 2187.3) rotate(-90)"><use href="#cv"/><text class="n" x="-3" y="-13">C4</text><text class="n" x="-3" y="24">10n</text><text class="p" x="11" y="-1">1</text><text class="p" x="-15" y="-1">2</text></g>
<g id="C2" transform="translate(179.6 2549.3) rotate(-90)"><use href="#cv"/><text class="n" x="-2" y="-13">C2</text><text class="n" x="-2" y="24">150n</text><text class="p" x="11" y="-1">1</text><text class="p" x="-15" y="-1">2</text></g>
<g id="C1" transform="translate(287.1 2602.3) rotate(-90)"><use href="#cv"/><text class="n" x="-2" y="-13">C1</text><text class="n" x="-2" y="24">10n</text><text class="p" x="11" y="-1">1</text><text class="p" x="-15" y="-1">2</text></g>
<g id="C7" transform="translate(856.4 2179.5) rotate(-90)"><use href="#cv"/><text class="n" y="-13">C7</text><text class="n" y="24">1500u</text><text class="n" x="8" y="13">+</text><text class="p" x="11" y="-1">1</text><text class="p" x="-15" y="-1">2</text></g>
<g id="C6" transform="translate(1026 2172) rotate(-90)"><use href="#cv"/><text class="n" y="-13">C6</text><text class="n" y="24">1500u</text><text class="n" x="8" y="13">+</text><text class="p" x="11" y="-1">1</text><text class="p" x="-15" y="-1">2</text></g>
<g id="C8" transform="translate(1264.3 2218.3) rotate(-90)"><use href="#cv"/><text class="n" y="-13">C8</text><text class="n" y="24">22u</text><text class="n" x="8" y="13">+</text><text class="p" x="11" y="-1">1</text><text class="p" x="-15" y="-1">2</text></g>
<g id="C9" transform="translate(1495 2218.3) rotate(-90)"><use href="#cv"/><text class="n" y="-13">C9</text><text class="n" y="24">22u</text><text class="n" x="8" y="13">+</text><text class="p" x="11" y="-1">1</text><text class="p" x="-15" y="-1">2</text></g>
<g id="C10" transform="translate(1556.4 2218.3) rotate(-90)"><use href="#cv"/><text class="n" y="-13">C10</text><text class="n" y="24">22u</text><text class="n" x="8" y="13">+</text><text class="p" x="11" y="-1">1</text><text class="p" x="-15" y="-1">2</text></g>
<g id="C11" transform="translate(1618.2 2218.3) rotate(-90)"><use href="#cv"/><text class="n" y="-13">C11</text><text class="n" y="24">22u</text><text class="n" x="8" y="13">+</text><text class="p" x="11" y="-1">1</text><text class="p" x="-15" y="-1">2</text></g>
<g id="C12" transform="translate(1679.6 2218.3) rotate(-90)"><use href="#cv"/><text class="n" y="-13">C12</text><text class="n" y="24">22u</text><text class="n" x="8" y="13">+</text><text class="p" x="11" y="-1">1</text><text class="p" x="-15" y="-1">2</text></g>
<g id="CLED" transform="translate(356 2425.7) rotate(-90)"><use href="#cv"/><text class="n" y="-14">CLED</text><text class="n" x="2" y="25">1u</text><text class="n" x="7" y="13">+</text><text class="p" x="11" y="-1">1</text><text class="p" x="-15" y="-1">2</text></g>
<g id="C3" transform="translate(856.4 2619.3) rotate(-90)"><use href="#cv"/><text class="n" y="-13">C3</text><text class="n" y="24">1500u</text><text class="n" x="8" y="13">+</text><text class="p" x="11" y="-1">1</text><text class="p" x="-15" y="-1">2</text></g>
<g id="C13" transform="translate(1026 2619.3) rotate(-90)"><use href="#cv"/><text class="n" y="-13">C13</text><text class="n" y="24">1500u</text><text class="n" x="8" y="-2">+</text><text class="p" x="11" y="-1">1</text><text class="p" x="-15" y="-1">2</text></g>
<g id="C14" transform="translate(1264.3 2571.7) rotate(-90)"><use href="#cv"/><text class="n" y="-13">C14</text><text class="n" y="24">22u</text><text class="n" x="8" y="-2">+</text><text class="p" x="11" y="-1">1</text><text class="p" x="-15" y="-1">2</text></g>
<g id="C15" transform="translate(1495 2579.3) rotate(-90)"><use href="#cv"/><text class="n" y="-13">C15</text><text class="n" y="24">22u</text><text class="n" x="8" y="-2">+</text><text class="p" x="11" y="-1">1</text><text class="p" x="-15" y="-1">2</text></g>
<g id="C16" transform="translate(1556.4 2579.3) rotate(-90)"><use href="#cv"/><text class="n" y="-13">C16</text><text class="n" y="24">22u</text><text class="n" x="8" y="-2">+</text><text class="p" x="11" y="-1">1</text><text class="p" x="-15" y="-1">2</text></g>
<g id="C17" transform="translate(1618.2 2579.3) rotate(-90)"><use href="#cv"/><text class="n" y="-13">C17</text><text class="n" y="24">22u</text><text class="n" x="8" y="-2">+</text><text class="p" x="11" y="-1">1</text><text class="p" x="-15" y="-1">2</text></g>
<g id="C18" transform="translate(1679.6 2579.3) rotate(-90)"><use href="#cv"/><text class="n" y="-13">C18</text><text class="n" y="24">22u</text><text class="n" x="8" y="-2">+</text><text class="p" x="11" y="-1">1</text><text class="p" x="-15" y="-1">2</text></g>

<g id="D3" transform="translate(710.4 2074)"><use href="#d"/><text class="n" y="-19">D3</text><text class="p" x="-21" y="-1">2</text><text class="p" x="21" y="-1">1</text></g>
<g id="D4" transform="translate(710.4 2143.6)"><use href="#d"/><text class="n" y="-19">D4</text><text class="p" x="-21" y="-1">2</text><text class="p" x="21" y="-1">1</text></g>
<g id="D1" transform="translate(718 2658.5)"><use href="#d" transform="scale(-1 1)"/><text class="n" y="-19">D1</text><text class="p" x="-19" y="-1">1</text><text class="p" x="22" y="-1">2</text></g>
<g id="D2" transform="translate(718 2727.9)"><use href="#d" transform="scale(-1 1)"/><text class="n" y="-19">D2</text><text class="p" x="-19" y="-1">1</text><text class="p" x="22" y="-1">2</text></g>
<g id="D9"><path class="s" d="M270.4 2370.7L289.3 2381.7L270.4 2393.3ZM289.3 2370.7V2393.3"/><text class="n" x="280" y="2366.7">D9</text><text class="n" x="280" y="2406">1N4004</text><text class="p" x="259" y="2380">2</text><text class="p" x="301" y="2380">1</text></g>
<g id="LED"><ellipse class="s" cx="502.9" cy="2428.3" rx="19.3" ry="19"/><path class="s" d="M491 2418.7H515L502.9 2437.3ZM490 2437.7H516M516 2447L527 2457M522 2442L532 2451"/><path class="f" d="M527 2457L521 2455L525 2451ZM532 2451L526 2449L530 2445Z"/><text class="n" transform="translate(479.6 2433) rotate(-90)">LED</text><text class="p" transform="translate(500 2406) rotate(-90)">2</text></g>

<g id="P1"><path class="s" d="M679 90H711"/><text class="n" x="695" y="77">+15V</text></g>
<g id="P2"><path class="s" d="M456.5 305H487.5"/><text class="n" transform="translate(455 306) rotate(-90)">-15V</text></g>
<g id="P3"><path class="s" d="M1841 136.3H1874"/><text class="n" x="1857.5" y="123">+15V</text></g>
<g id="P4"><path class="s" d="M1641.5 359H1673"/><text class="n" transform="translate(1639 360) rotate(-90)">-15V</text></g>
<g id="P5"><path class="s" d="M1564 621H1596"/><text class="n" x="1579.6" y="608.3">+15V</text></g>
<g id="P6"><path class="s" d="M1348.5 828.3H1380.5"/><text class="n" transform="translate(1346 828) rotate(-90)">-15V</text></g>
<g id="P7"><path class="s" d="M671.6 1097H703.6"/><text class="n" x="687.6" y="1084.5">+15V</text></g>
<g id="P8"><path class="s" d="M456.5 1305H487.5"/><text class="n" transform="translate(455 1306) rotate(-90)">-15V</text></g>
<g id="P9"><path class="s" d="M1487 1097.3H1518.8"/><text class="n" x="1502.7" y="1085">+15V</text></g>
<g id="P10"><path class="s" d="M1279 1305H1311"/><text class="n" transform="translate(1276.5 1305) rotate(-90)">-15V</text></g>
<g id="P11"><path class="s" d="M195 1605H226.7"/><text class="n" x="210.7" y="1592.3">+15V</text></g>
<g id="P12"><path class="s" d="M195 1720.7H226.7"/><text class="n" transform="translate(191.7 1720.7) rotate(-90)">-15V</text></g>
<g id="P13"><path class="s" d="M1664 2028H1695.7"/><text class="n" x="1679.6" y="2015">+15V</text></g>
<g id="P14"><path class="s" d="M1664 2781.7H1695.7"/><text class="n" transform="translate(1660.7 2782) rotate(-90)">-15V</text></g>

<g id="PortOut1"><path class="s" d="M1756.6 29L1764.6 21L1772.6 29M1756.6 38L1764.6 29L1772.6 38"/><text class="n" style="font-size:16px" x="1764.6" y="16">Port_Out</text></g>
<g id="PortIn1"><path class="s" d="M1757.2 121L1764 113.3H1773V129H1764Z"/><text class="n" style="font-size:16px" x="1765" y="108">Port_In1</text></g>
<g id="PortOut2"><path class="s" d="M1371.3 613.3L1379.3 605L1387.3 613.3M1371.3 621.7L1379.3 613L1387.3 621.7"/><text class="n" style="font-size:16px" x="1379" y="600.7">Port_Out</text></g>
<g id="PortIn2"><path class="s" d="M1356.8 675H1372.5V683L1364.6 690L1356.8 683Z"/><text class="n" style="font-size:16px" x="1364.6" y="670">Port_In1</text></g>

<g id="G1" transform="translate(202.5 258.3) rotate(-90)"><use href="#gnd"/><text class="n" x="-6.5" y="-13.5">GND</text><text class="p" x="5" y="-1">1</text></g>
<g id="G2" transform="translate(725.7 843.4) rotate(-90)"><use href="#gnd"/><text class="n" x="-6.5" y="-13.5">GND</text><text class="p" x="5" y="-1">1</text></g>
<g id="G3" transform="translate(779.6 843.4) rotate(-90)"><use href="#gnd"/><text class="n" x="-6.5" y="-13.5">GND</text><text class="p" x="5" y="-1">1</text></g>
<g id="G4" transform="translate(1149 789.4) rotate(-90)"><use href="#gnd"/><text class="n" x="-6.5" y="-13.5">GND</text><text class="p" x="5" y="-1">1</text></g>
<g id="G5" transform="translate(2181.4 328) rotate(-90)"><use href="#gnd"/><text class="n" x="-6.5" y="-13.5">GND</text><text class="p" x="5" y="-1">1</text></g>
<g id="G6" transform="translate(1518.4 451.7) rotate(-90)"><use href="#gnd"/><text class="n" x="-6.5" y="-13.5">GND</text><text class="p" x="5" y="-1">1</text></g>
<g id="G7" transform="translate(1934.6 451.7) rotate(-90)"><use href="#gnd"/><text class="n" x="-6.5" y="-13.5">GND</text><text class="p" x="5" y="-1">1</text></g>
<g id="G8" transform="translate(202.5 1258.3) rotate(-90)"><use href="#gnd"/><text class="n" x="-6.5" y="-13.5">GND</text><text class="p" x="5" y="-1">1</text></g>
<g id="G9" transform="translate(725.7 1843.4) rotate(-90)"><use href="#gnd"/><text class="n" x="-6.5" y="-13.5">GND</text><text class="p" x="5" y="-1">1</text></g>
<g id="G10" transform="translate(779.6 1843.4) rotate(-90)"><use href="#gnd"/><text class="n" x="-6.5" y="-13.5">GND</text><text class="p" x="5" y="-1">1</text></g>
<g id="G11" transform="translate(1149 1789.4) rotate(-90)"><use href="#gnd"/><text class="n" x="-6.5" y="-13.5">GND</text><text class="p" x="5" y="-1">1</text></g>
<g id="G12" transform="translate(2181.4 1328) rotate(-90)"><use href="#gnd"/><text class="n" x="-6.5" y="-13.5">GND</text><text class="p" x="5" y="-1">1</text></g>
<g id="G13" transform="translate(1518 1451.7) rotate(-90)"><use href="#gnd"/><text class="n" x="-6.5" y="-13.5">GND</text><text class="p" x="5" y="-1">1</text></g>
<g id="G14" transform="translate(1934 1451.7) rotate(-90)"><use href="#gnd"/><text class="n" x="-6.5" y="-13.5">GND</text><text class="p" x="5" y="-1">1</text></g>
<g id="G15" transform="translate(1679.6 2343.3) rotate(-90)"><use href="#gnd"/><text class="n" x="-6.5" y="-13.5">GND</text><text class="p" x="5" y="-1">1</text></g>
</svg>
